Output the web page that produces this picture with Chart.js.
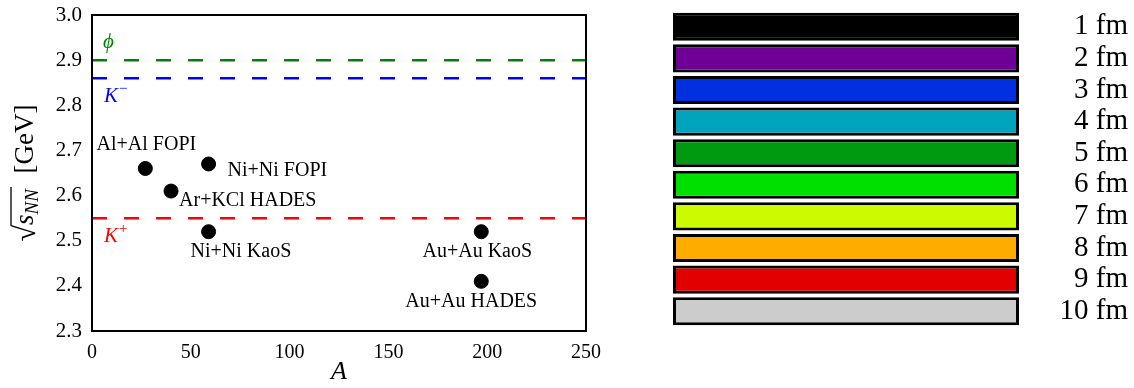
<!DOCTYPE html>
<html>
<head>
<meta charset="utf-8">
<script src="https://cdn.jsdelivr.net/npm/chart.js@4"></script>
<style>
  body { margin: 0; background: #fff; }
  #wrap { position: relative; width: 1134px; height: 388px; }
  #left { position: absolute; left: 0; top: 0; }
  #right { position: absolute; left: 640px; top: 0; }
</style>
</head>
<body>
<div id="wrap">
  <canvas id="left" width="620" height="388"></canvas>
  <canvas id="right" width="494" height="388"></canvas>
</div>
<script>
// collision systems and their beam energies
const systems = ["Al+Al FOPI", "Ar+KCl HADES", "Ni+Ni FOPI", "Ni+Ni KaoS", "Au+Au KaoS", "Au+Au HADES"];
const massNumbers = [27, 40, 59, 59, 197, 197];
const sqrtS = [2.66, 2.61, 2.67, 2.52, 2.52, 2.41];

// production thresholds
const thresholdNames = ["phi", "K-", "K+"];
const thresholdValues = [2.90, 2.86, 2.55];
const thresholdColors = ["#008000", "#0000ff", "#ff0000"];

const xTicks = [0, 50, 100, 150, 200, 250];
const yTicks = [2.3, 2.4, 2.5, 2.6, 2.7, 2.8, 2.9, 3.0];

// impact parameter colour key
const impactLabels = ["1 fm", "2 fm", "3 fm", "4 fm", "5 fm", "6 fm", "7 fm", "8 fm", "9 fm", "10 fm"];
const impactColors = ["#000000", "#6e0096", "#0030e0", "#00a4bc", "#009a10", "#00e000", "#ccfa00", "#ffac00", "#e20000", "#cccccc"];
const barLength = [1, 1, 1, 1, 1, 1, 1, 1, 1, 1];

const SERIF = '"Liberation Serif", "DejaVu Serif", serif';

// where each system label sits relative to its point [dx, dy, align]
const labelPlace = [[1, -24, "center"], [8, 10, "left"], [19, 7, "left"], [-18, 20, "left"], [-4, 20, "center"], [-10, 20, "center"]];

const annotate = {
  id: "annotate",
  afterDatasetsDraw(chart) {
    const ctx = chart.ctx;
    const xs = chart.scales.x, ys = chart.scales.y;
    const area = chart.chartArea;
    ctx.save();
    // frame
    ctx.strokeStyle = "#000";
    ctx.lineWidth = 2;
    ctx.strokeRect(area.left, area.top, area.right - area.left, area.bottom - area.top);

    // system labels
    ctx.fillStyle = "#000";
    ctx.font = "20px " + SERIF;
    ctx.textBaseline = "middle";
    systems.forEach((name, i) => {
      const p = labelPlace[i];
      ctx.textAlign = p[2];
      ctx.fillText(name, xs.getPixelForValue(massNumbers[i]) + p[0], ys.getPixelForValue(sqrtS[i]) + p[1]);
    });

    // threshold labels
    const x0 = xs.getPixelForValue(0);
    thresholdNames.forEach((n, i) => {
      const y = ys.getPixelForValue(thresholdValues[i]);
      ctx.fillStyle = thresholdColors[i];
      ctx.textAlign = "left";
      ctx.font = "italic 21px " + SERIF;
      if (n === "phi") {
        ctx.fillText("\u03d5", x0 + 11, y - 18);
      } else {
        ctx.fillText("K", x0 + 12, y + 18);
        const w = ctx.measureText("K").width;
        ctx.font = "15px " + SERIF;
        ctx.fillText(n === "K-" ? "\u2212" : "+", x0 + 13 + w, y + 11);
      }
    });

    // y axis title: sqrt(s_NN) [GeV]
    ctx.fillStyle = "#000";
    ctx.strokeStyle = "#000";
    ctx.translate(33, (area.top + area.bottom) / 2);
    ctx.rotate(-Math.PI / 2);
    ctx.textAlign = "left";
    ctx.textBaseline = "alphabetic";
    const fRoot = "30px " + SERIF, fS = "italic 27px " + SERIF, fSub = "italic 19px " + SERIF, fUnit = "27px " + SERIF;
    ctx.font = fRoot; const wRoot = ctx.measureText("\u221a").width;
    ctx.font = fS; const wS = ctx.measureText("s").width;
    ctx.font = fSub; const wSub = ctx.measureText("NN").width;
    ctx.font = fUnit; const wUnit = ctx.measureText("  [GeV]").width;
    const total = wRoot + wS + wSub + 2 + wUnit;
    let cx = -total / 2;
    const base = 0;
    ctx.font = fRoot; ctx.fillText("\u221a", cx, base + 2);
    cx += wRoot;
    ctx.lineWidth = 1.3;
    ctx.beginPath(); ctx.moveTo(cx - 1, base - 22); ctx.lineTo(cx + wS + wSub + 2, base - 22); ctx.stroke();
    ctx.font = fS; ctx.fillText("s", cx, base);
    cx += wS;
    ctx.font = fSub; ctx.fillText("NN", cx, base + 5);
    cx += wSub + 2;
    ctx.font = fUnit; ctx.fillText("  [GeV]", cx, base);
    ctx.restore();
  }
};

const lineSets = thresholdValues.map((v, i) => ({
  type: "line",
  data: [{ x: 0, y: v }, { x: 250, y: v }],
  borderColor: thresholdColors[i],
  borderWidth: 2.5,
  borderDash: [15, 17],
  pointRadius: 0
}));

new Chart(document.getElementById("left"), {
  type: "scatter",
  data: {
    datasets: [
      ...lineSets,
      {
        data: massNumbers.map((a, i) => ({ x: a, y: sqrtS[i] })),
        backgroundColor: "#000",
        borderColor: "#000",
        pointRadius: 7,
        pointHoverRadius: 7
      }
    ]
  },
  options: {
    responsive: false,
    animation: false,
    layout: { padding: { left: 0, right: 34, top: 15, bottom: 0 } },
    plugins: { legend: { display: false }, tooltip: { enabled: false } },
    scales: {
      x: {
        type: "linear", min: 0, max: 250,
        afterBuildTicks: s => { s.ticks = xTicks.map(v => ({ value: v })); },
        afterFit: s => { s.height = 57; },
        grid: { display: false },
        border: { display: false },
        ticks: { color: "#000", font: { family: SERIF, size: 20 }, padding: 2 },
        title: { display: true, text: "A", color: "#000", font: { family: SERIF, size: 26, style: "italic" }, padding: { top: 0, bottom: 0 } }
      },
      y: {
        type: "linear", min: 2.3, max: 3.0,
        afterBuildTicks: s => { s.ticks = yTicks.map(v => ({ value: v })); },
        afterFit: s => { s.width = 92; },
        grid: { display: false },
        border: { display: false },
        ticks: { color: "#000", font: { family: SERIF, size: 21 }, padding: 2, callback: v => v.toFixed(1) }
      }
    }
  },
  plugins: [annotate]
});

new Chart(document.getElementById("right"), {
  type: "bar",
  data: {
    labels: impactLabels,
    datasets: [{
      data: barLength,
      backgroundColor: impactColors,
      borderColor: "#000",
      borderWidth: 3,
      borderSkipped: false,
      categoryPercentage: 0.89,
      barPercentage: 1
    }]
  },
  options: {
    indexAxis: "y",
    responsive: false,
    animation: false,
    layout: { padding: { left: 33, right: 6, top: 11, bottom: 61 } },
    plugins: { legend: { display: false }, tooltip: { enabled: false } },
    scales: {
      x: { display: false, min: 0, max: 1 },
      y: {
        position: "right",
        afterFit: s => { s.width = 109; s.paddingTop = 0; s.paddingBottom = 0; },
        grid: { display: false },
        border: { display: false },
        ticks: { color: "#000", autoSkip: false, crossAlign: "far", font: { family: SERIF, size: 29 }, padding: 0 }
      }
    }
  }
});
</script>
</body>
</html>
